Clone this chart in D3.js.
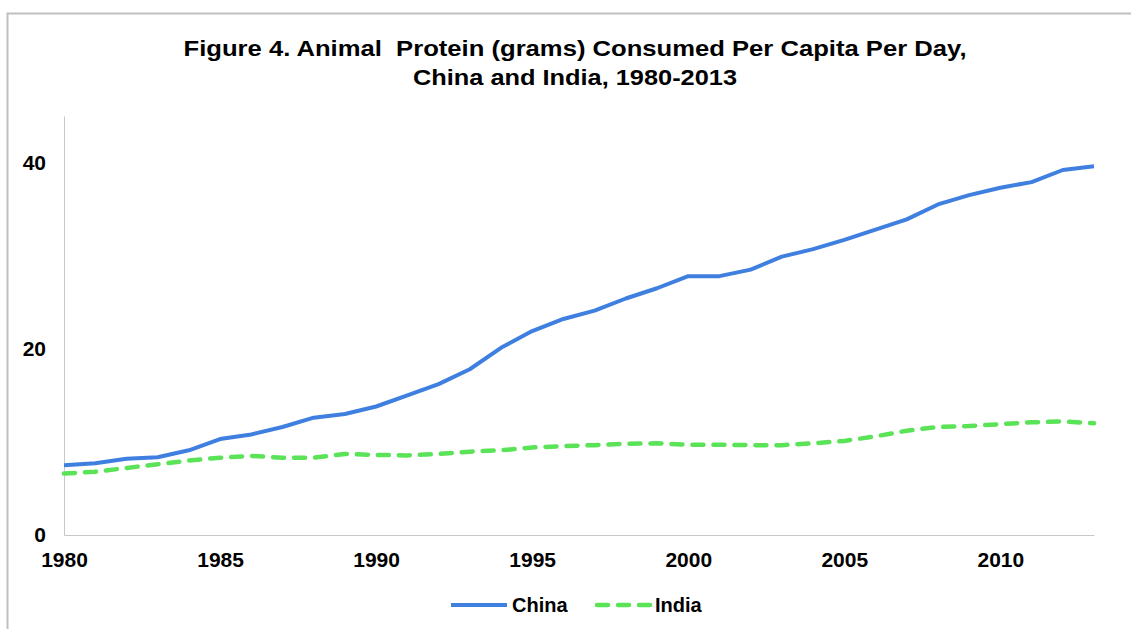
<!DOCTYPE html>
<html><head><meta charset="utf-8">
<script src="https://cdn.jsdelivr.net/npm/d3@7"></script>
<style>body{margin:0;background:#fff}svg{display:block}text{font-family:"Liberation Sans",Arial,sans-serif;font-weight:bold;fill:#000}</style>
</head><body><svg id="c" width="1131" height="629"></svg>
<script>
const years = d3.range(1980, 2014);
const china = [7.5,7.7,8.2,8.35,9.1,10.3,10.8,11.6,12.6,13.0,13.8,15.0,16.2,17.8,20.1,21.9,23.2,24.1,25.4,26.5,27.8,27.8,28.5,29.9,30.7,31.7,32.8,33.9,35.5,36.5,37.3,37.9,39.2,39.6];
const india = [6.6,6.8,7.2,7.6,8.0,8.3,8.5,8.3,8.3,8.7,8.6,8.55,8.7,8.95,9.1,9.4,9.55,9.65,9.8,9.85,9.7,9.7,9.65,9.65,9.85,10.1,10.6,11.2,11.6,11.7,11.9,12.1,12.2,12.0];
const yTicks = [0,20,40];
const xTicks = [1980,1985,1990,1995,2000,2005,2010];
const titleLines = ["Figure 4. Animal  Protein (grams) Consumed Per Capita Per Day,","China and India, 1980-2013"];
const titleWidths = [783,324];
const seriesNames = ["China","India"];

const svg = d3.select("#c");
svg.append("rect").attr("x",7.5).attr("y",13.5).attr("width",1200).attr("height",700)
  .attr("fill","none").attr("stroke","#c0c0c0").attr("stroke-width",2);

const m = {l:64,r:1094,t:116,b:535};
const x = d3.scaleLinear().domain([1980,2013]).range([m.l,m.r]);
const y = d3.scaleLinear().domain([0,45]).range([m.b,m.t]);

svg.selectAll(".title").data(titleLines).join("text")
  .attr("x",575).attr("y",(d,i)=>56+i*29).attr("text-anchor","middle")
  .attr("textLength",(d,i)=>titleWidths[i]).attr("lengthAdjust","spacingAndGlyphs")
  .style("font-size","22px").style("white-space","pre").text(d=>d);

const yAx = svg.append("g").attr("transform",`translate(${m.l},0)`)
  .call(d3.axisLeft(y).tickValues(yTicks).tickSize(0).tickPadding(18));
yAx.select(".domain").attr("stroke","#c8c8c8");
yAx.selectAll("text").style("font-size","21px").attr("font-family",null);

const xAx = svg.append("g").attr("transform",`translate(0,${m.b})`)
  .call(d3.axisBottom(x).tickValues(xTicks).tickFormat(d3.format("d")).tickSize(0).tickPadding(17));
xAx.select(".domain").attr("stroke","#c8c8c8");
xAx.selectAll("text").style("font-size","21px").attr("font-family",null);

const line = d3.line().x((d,i)=>x(years[i])).y(d=>y(d));
svg.append("path").datum(china).attr("d",line).attr("fill","none")
  .attr("stroke","#3f7fe0").attr("stroke-width",4).attr("stroke-linejoin","round");
svg.append("path").datum(india).attr("d",line).attr("fill","none")
  .attr("stroke","#5ae356").attr("stroke-width",4.5).attr("stroke-dasharray","11,10").attr("stroke-linecap","round");

// legend
const lg = svg.append("g");
lg.append("line").attr("x1",451).attr("x2",507).attr("y1",605).attr("y2",605)
  .attr("stroke","#3f7fe0").attr("stroke-width",4);
lg.append("text").attr("x",512).attr("y",612).style("font-size","20px").text(seriesNames[0]);
lg.append("line").attr("x1",597).attr("x2",650).attr("y1",605).attr("y2",605)
  .attr("stroke","#5ae356").attr("stroke-width",4.5).attr("stroke-dasharray","11,10").attr("stroke-linecap","round");
lg.append("text").attr("x",655).attr("y",612).style("font-size","20px").text(seriesNames[1]);
</script></body></html>
